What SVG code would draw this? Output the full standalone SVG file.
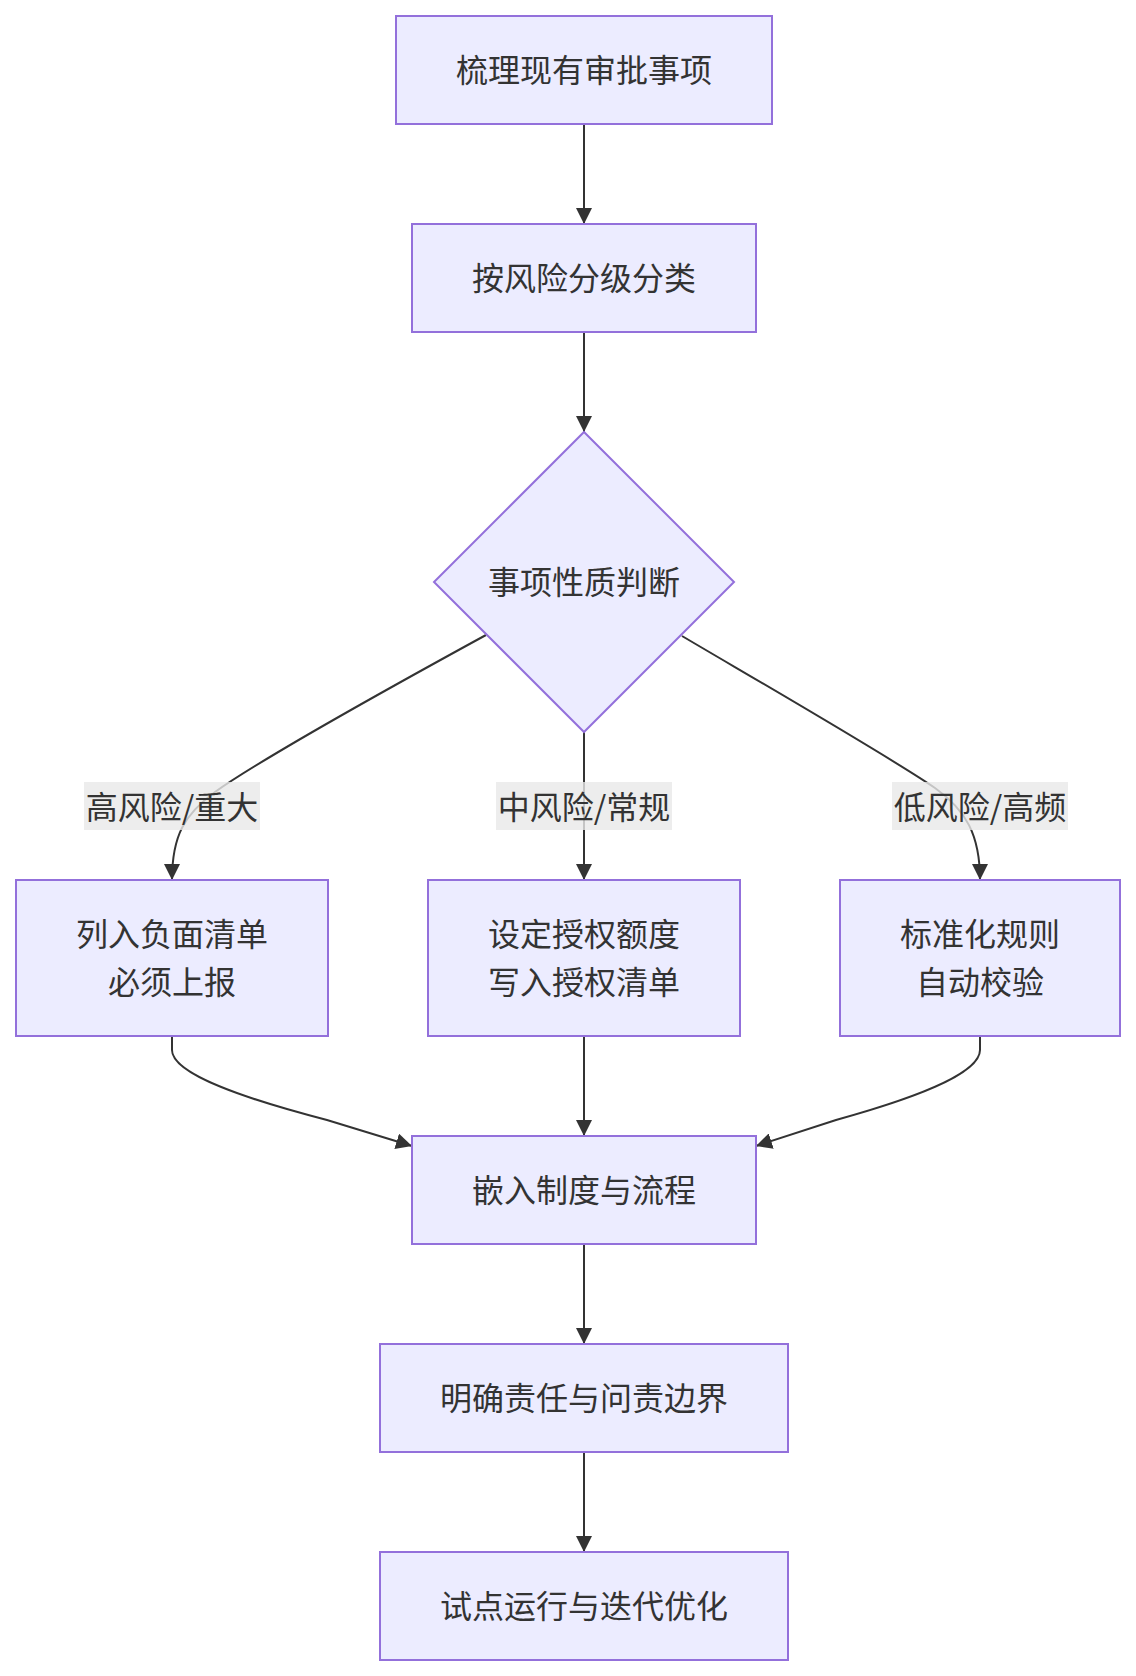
<svg xmlns="http://www.w3.org/2000/svg" width="1136" height="1676" viewBox="0 0 1136 1676">
<style>
.node rect, .node polygon { fill: #ECECFF; stroke: #9370DB; stroke-width: 2; }
.node text, .label text { font-family: "Noto Sans CJK SC", "Liberation Sans", sans-serif; font-size: 32px; fill: #333333; text-anchor: middle; }
.edge { fill: none; stroke: #333333; stroke-width: 2; marker-end: url(#arrow); }
.label rect { fill: #e8e8e8; fill-opacity: 0.8; }
</style>
<defs>
<marker id="arrow" viewBox="0 0 10 10" refX="10" refY="5" markerUnits="userSpaceOnUse" markerWidth="16" markerHeight="16" orient="auto">
<path d="M0,0 L10,5 L0,10 z" fill="#333333"/>
</marker>
</defs>
<rect width="1136" height="1676" fill="#ffffff"/>
<g id="connectors">
<path class="edge" d="M584,124 L584,224"/>
<path class="edge" d="M584,332 L584,432"/>
<path class="edge" d="M486,635 C400,682 260,760 215,792 C185,814 172,835 172,880"/>
<path class="edge" d="M584,732 L584,880"/>
<path class="edge" d="M682,636 C760,682 890,757 935,788 C966,810 980,835 980,880"/>
<path class="edge" d="M172,1036 L172,1050 C172,1075 250,1100 327,1120 L412,1146"/>
<path class="edge" d="M584,1036 L584,1136"/>
<path class="edge" d="M980,1036 L980,1050 C980,1075 908,1100 836,1120 L756,1146"/>
<path class="edge" d="M584,1244 L584,1344"/>
<path class="edge" d="M584,1452 L584,1552"/>
</g>
<g id="edge-labels">
<g class="label" id="label-high"><rect x="84" y="782" width="176" height="48"/><text x="172" y="819">高风险/重大</text></g>
<g class="label" id="label-mid"><rect x="496" y="782" width="176" height="48"/><text x="584" y="819">中风险/常规</text></g>
<g class="label" id="label-low"><rect x="892" y="782" width="176" height="48"/><text x="980" y="819">低风险/高频</text></g>
</g>
<g class="node" id="n1"><rect x="396" y="16" width="376" height="108"/><text x="584" y="82">梳理现有审批事项</text></g>
<g class="node" id="n2"><rect x="412" y="224" width="344" height="108"/><text x="584" y="290">按风险分级分类</text></g>
<g class="node" id="n3"><polygon points="584,432 734,582 584,732 434,582"/><text x="584" y="594">事项性质判断</text></g>
<g class="node" id="n4"><rect x="16" y="880" width="312" height="156"/><text x="172" y="946">列入负面清单</text><text x="172" y="994">必须上报</text></g>
<g class="node" id="n5"><rect x="428" y="880" width="312" height="156"/><text x="584" y="946">设定授权额度</text><text x="584" y="994">写入授权清单</text></g>
<g class="node" id="n6"><rect x="840" y="880" width="280" height="156"/><text x="980" y="946">标准化规则</text><text x="980" y="994">自动校验</text></g>
<g class="node" id="n7"><rect x="412" y="1136" width="344" height="108"/><text x="584" y="1202">嵌入制度与流程</text></g>
<g class="node" id="n8"><rect x="380" y="1344" width="408" height="108"/><text x="584" y="1410">明确责任与问责边界</text></g>
<g class="node" id="n9"><rect x="380" y="1552" width="408" height="108"/><text x="584" y="1618">试点运行与迭代优化</text></g>
</svg>
